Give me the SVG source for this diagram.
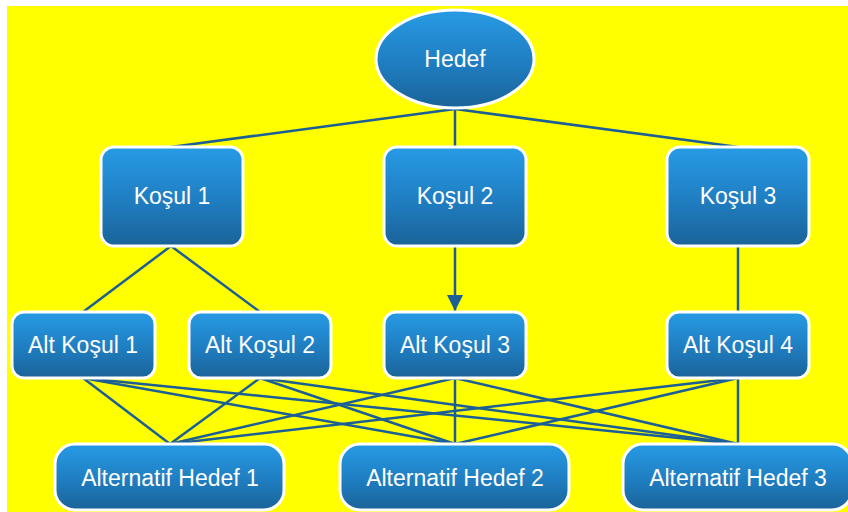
<svg xmlns="http://www.w3.org/2000/svg" width="848" height="512" viewBox="0 0 848 512">
<defs>
<linearGradient id="g" x1="0" y1="0" x2="0" y2="1">
<stop offset="0" stop-color="#279BE6"/>
<stop offset="0.55" stop-color="#1F7DC0"/>
<stop offset="1" stop-color="#1A6398"/>
</linearGradient>
<marker id="arr" viewBox="0 0 16 16" refX="16" refY="8" markerWidth="16" markerHeight="16" markerUnits="userSpaceOnUse" orient="auto">
<path d="M0,0 L16,8 L0,16 Z" fill="#1B5F96"/>
</marker>
<style>
.n{fill:url(#g);stroke:#FFFFFF;stroke-width:3}
.t{fill:#FFFFFF;font-family:"Liberation Sans",Arial,sans-serif;font-size:23px;text-anchor:middle}
.c{stroke:#1B5F96;stroke-width:2.5;fill:none}
</style>
</defs>
<rect x="0" y="0" width="848" height="512" fill="#FFFFFF"/>
<rect x="7" y="6" width="841" height="506" fill="#FFFF00"/>
<g id="connectors">
<line class="c" x1="455" y1="109" x2="171" y2="147"/>
<line class="c" x1="455" y1="109" x2="455" y2="147"/>
<line class="c" x1="455" y1="109" x2="738" y2="147"/>
<line class="c" x1="171" y1="246" x2="83" y2="312"/>
<line class="c" x1="171" y1="246" x2="260" y2="312"/>
<line class="c" x1="455" y1="246" x2="455" y2="311" marker-end="url(#arr)"/>
<line class="c" x1="738" y1="246" x2="738" y2="312"/>
<line class="c" x1="83" y1="378" x2="170" y2="444"/>
<line class="c" x1="83" y1="378" x2="455" y2="444"/>
<line class="c" x1="83" y1="378" x2="738" y2="444"/>
<line class="c" x1="260" y1="378" x2="170" y2="444"/>
<line class="c" x1="260" y1="378" x2="455" y2="444"/>
<line class="c" x1="260" y1="378" x2="738" y2="444"/>
<line class="c" x1="455" y1="378" x2="170" y2="444"/>
<line class="c" x1="455" y1="378" x2="455" y2="444"/>
<line class="c" x1="455" y1="378" x2="738" y2="444"/>
<line class="c" x1="738" y1="378" x2="170" y2="444"/>
<line class="c" x1="738" y1="378" x2="455" y2="444"/>
<line class="c" x1="738" y1="378" x2="738" y2="444"/>
</g>
<g id="hedef">
<ellipse class="n" cx="455" cy="59" rx="79" ry="49"/>
<text class="t" x="455" y="67">Hedef</text>
</g>
<g id="kosul1">
<rect class="n" x="101" y="147" width="142" height="99" rx="13"/>
<text class="t" x="172" y="204">Koşul 1</text>
</g>
<g id="kosul2">
<rect class="n" x="384" y="147" width="142" height="99" rx="13"/>
<text class="t" x="455" y="204">Koşul 2</text>
</g>
<g id="kosul3">
<rect class="n" x="667" y="147" width="142" height="99" rx="13"/>
<text class="t" x="738" y="204">Koşul 3</text>
</g>
<g id="altkosul1">
<rect class="n" x="12" y="312" width="143" height="66" rx="12"/>
<text class="t" x="83" y="353">Alt Koşul 1</text>
</g>
<g id="altkosul2">
<rect class="n" x="189" y="312" width="142" height="66" rx="12"/>
<text class="t" x="260" y="353">Alt Koşul 2</text>
</g>
<g id="altkosul3">
<rect class="n" x="384" y="312" width="142" height="66" rx="12"/>
<text class="t" x="455" y="353">Alt Koşul 3</text>
</g>
<g id="altkosul4">
<rect class="n" x="667" y="312" width="142" height="66" rx="12"/>
<text class="t" x="738" y="353">Alt Koşul 4</text>
</g>
<g id="alternatif1">
<rect class="n" x="55" y="444" width="229" height="66" rx="20"/>
<text class="t" x="170" y="486">Alternatif Hedef 1</text>
</g>
<g id="alternatif2">
<rect class="n" x="340" y="444" width="229" height="66" rx="20"/>
<text class="t" x="455" y="486">Alternatif Hedef 2</text>
</g>
<g id="alternatif3">
<rect class="n" x="623" y="444" width="229" height="66" rx="20"/>
<text class="t" x="738" y="486">Alternatif Hedef 3</text>
</g>
</svg>
